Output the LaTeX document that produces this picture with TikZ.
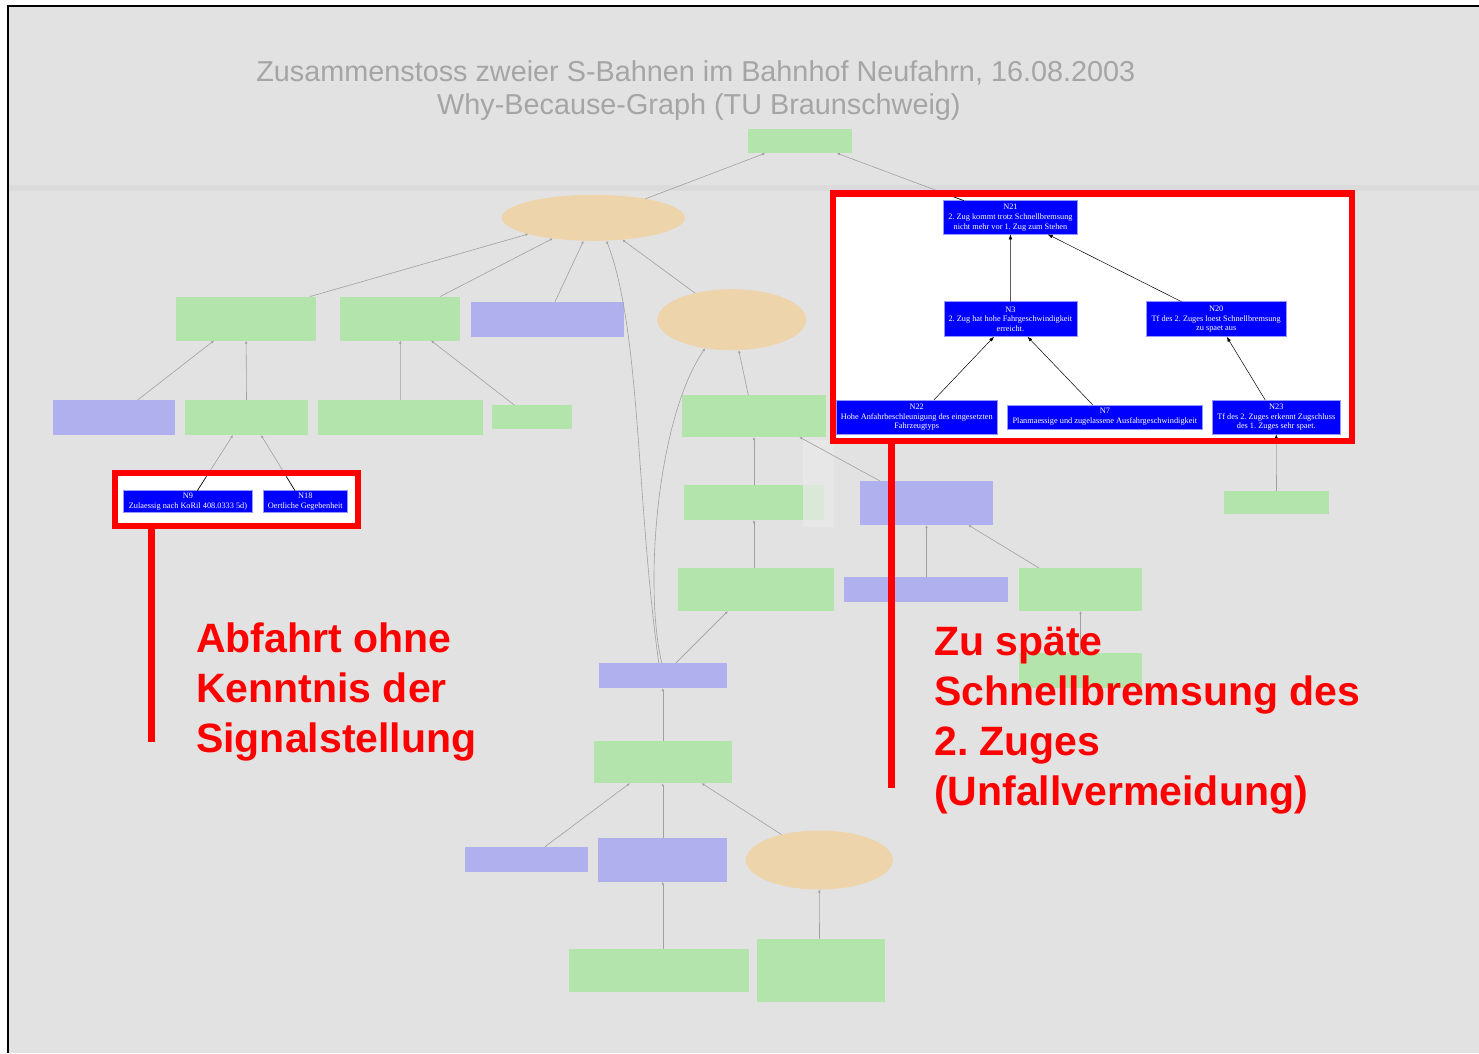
\documentclass[tikz,border=0pt]{standalone}
\usepackage{fontspec}
\setmainfont{Liberation Serif}
\newfontfamily\sansf{Liberation Sans}
\usetikzlibrary{shapes.geometric,arrows.meta,calc}
\frenchspacing
\definecolor{bg}{RGB}{226,226,226}
\definecolor{bgband}{RGB}{219,219,219}
\definecolor{bglight}{RGB}{234,234,234}
\definecolor{fgreen}{RGB}{178,228,172}
\definecolor{fblue}{RGB}{176,176,238}
\definecolor{forange}{RGB}{238,212,170}
\definecolor{fedge}{RGB}{160,160,160}
\definecolor{titlegray}{RGB}{165,165,165}
\definecolor{nblue}{RGB}{0,0,255}
\definecolor{nborder}{RGB}{150,150,255}
\definecolor{hired}{RGB}{255,0,0}
\tikzset{
  fbox/.style={rectangle, draw=none, inner sep=0pt, outer sep=0pt},
  fg/.style={fbox, fill=fgreen},
  fb/.style={fbox, fill=fblue},
  fo/.style={ellipse, fill=forange, draw=none, inner sep=0pt, outer sep=0pt},
  fe/.style={draw=fedge, line width=0.6pt, -{Latex[length=3pt,width=2.6pt]}},
  fblack/.style={draw=black, line width=0.6pt, -{Latex[length=4pt,width=3.2pt]}},
  hi/.style={rectangle, fill=nblue, draw=nborder, line width=0.5pt, text=white,
    font=\fontsize{8.3}{9.7}\selectfont, align=center, inner sep=0pt, outer sep=0pt},
  he/.style={draw=black, line width=0.5pt, -{Latex[length=5pt,width=3.6pt]}},
  redframe/.style={draw=hired, line width=6.5pt},
  redtext/.style={text=hired, font=\sansf\bfseries\fontsize{41}{50}\selectfont, inner sep=0pt, anchor=base west},
  titletext/.style={text=titlegray, font=\sansf\fontsize{28.8}{33}\selectfont, inner sep=0pt, anchor=base}
}
\begin{document}
\begin{tikzpicture}[x=1pt,y=-1pt]
\useasboundingbox (0,0) rectangle (1479,1053);
% background
\fill[white] (0,0) rectangle (1479,1053);
\fill[bg] (8,6) rectangle (1479,1053);
\fill[bgband] (8,185) rectangle (1479,191);
\draw[line width=1.5pt, black] (8,1053) -- (8,6) -- (1479,6);

% title
\node[titletext] (title1) at (695.8,81.5) {Zusammenstoss zweier S-Bahnen im Bahnhof Neufahrn, 16.08.2003};
\node[titletext] (title2) at (698.9,114) {Why-Because-Graph (TU Braunschweig)};

% faded nodes
\node[fg, minimum width=104pt, minimum height=24pt] (t1) at (800.3,141.2) {};
\node[fo, minimum width=183pt, minimum height=46pt] (e1) at (593.3,217.8) {};
\node[fg, minimum width=140pt, minimum height=44pt] (A) at (246.1,318.5) {};
\node[fg, minimum width=120pt, minimum height=44pt] (B) at (400.3,318.5) {};
\node[fb, minimum width=153pt, minimum height=35pt] (C) at (547,319.2) {};
\node[fo, minimum width=149pt, minimum height=61pt] (e2) at (731.7,319.7) {};
\node[fb, minimum width=122pt, minimum height=35pt] (E) at (113.6,417.5) {};
\node[fg, minimum width=123pt, minimum height=35pt] (F) at (246.3,417.5) {};
\node[fg, minimum width=165pt, minimum height=35pt] (G) at (400.9,417.5) {};
\node[fg, minimum width=80pt, minimum height=24pt] (H) at (532.2,417.2) {};
\node[fg, minimum width=144pt, minimum height=42pt] (D) at (754,416) {};
\node[fg, minimum width=140pt, minimum height=35pt] (I) at (754,502.5) {};
\node[fb, minimum width=133pt, minimum height=44pt] (J) at (926.5,503) {};
\node[fg, minimum width=156pt, minimum height=43pt] (K) at (755.5,589.5) {};
\node[fb, minimum width=164pt, minimum height=25pt] (L) at (926,589.5) {};
\node[fg, minimum width=123pt, minimum height=43pt] (M) at (1080.5,589.5) {};
\node[fg, minimum width=123pt, minimum height=35pt] (N) at (1080.5,670.5) {};
\node[fb, minimum width=128pt, minimum height=25pt] (O) at (662.8,675.5) {};
\node[fg, minimum width=138pt, minimum height=42pt] (P) at (662.8,762.2) {};
\node[fb, minimum width=123pt, minimum height=25pt] (Q) at (526.7,859.2) {};
\node[fb, minimum width=129pt, minimum height=44pt] (R) at (662.8,859.7) {};
\node[fo, minimum width=147pt, minimum height=59pt] (S) at (819.3,860) {};
\node[fg, minimum width=180pt, minimum height=43pt] (T) at (659,970) {};
\node[fg, minimum width=128pt, minimum height=63pt] (U) at (821,970) {};
\node[fg, minimum width=105pt, minimum height=23pt] (V) at (1276.5,502.7) {};
% lighter patch
\fill[bglight, opacity=0.7] (803,440) rectangle (834,527);

% faded edges
\draw[fe] (e1.20) -- ([xshift=-35pt]t1.south);
\draw[fe] ([xshift=64pt]A.north) -- (e1.194);
\draw[fe] ([xshift=40pt]B.north) -- (e1.207);
\draw[fe] ([xshift=8pt]C.north) -- (e1.247);
\draw[fe] ([xshift=-4pt]O.north) .. controls (636,500) and (641,330) .. (e1.300);
\draw[fe] (e2.144) -- (e1.323);
\draw[fe] ([xshift=-5.7pt]D.north) -- (e2.283);
\draw[fe] ([xshift=-1pt]O.north) .. controls (644,590) and (656,420) .. (e2.227);
\draw[fe] ([xshift=24pt]E.north) -- ([xshift=-32pt]A.south);
\draw[fe] ([xshift=0.2pt]F.north) -- (A.south);
\draw[fe] ([xshift=-0.6pt]G.north) -- (B.south);
\draw[fe] ([xshift=-17.7pt]H.north) -- ([xshift=30.7pt]B.south);
\draw[fe] (I.north) -- (D.south);
\draw[fe] ([xshift=-46.5pt]J.north) -- ([xshift=45.3pt]D.south);
\draw[fe] ([xshift=-1.5pt]K.north) -- (I.south);
\draw[fe] ([xshift=0.5pt]L.north) -- (J.south);
\draw[fe] ([xshift=-41.5pt]M.north) -- ([xshift=41.8pt]J.south);
\draw[fe] (N.north) -- (M.south);
\draw[fe] ([xshift=13pt]O.north) -- ([xshift=-27.6pt]K.south);
\draw[fe] (P.north) -- (O.south);
\draw[fe] ([xshift=18.3pt]Q.north) -- ([xshift=-32.9pt]P.south);
\draw[fe] (R.north) -- (P.south);
\draw[fe] (S.146) -- ([xshift=38.8pt]P.south);
\draw[fe] ([xshift=3.8pt]T.north) -- (R.south);
\draw[fe] ([xshift=-1.5pt]U.north) -- (S.south);

% white frame interiors
\fill[white] (833,193.3) rectangle (1352,441);
\fill[white] (115,473) rectangle (358,526);

% highlighted nodes
\node[hi, minimum width=134.5pt, minimum height=33.6pt] (n21) at (1010.45,217.5) {N21\\2. Zug kommt trotz Schnellbremsung\\nicht mehr vor 1. Zug zum Stehen};
\node[hi, minimum width=133.2pt, minimum height=35pt] (n3) at (1010.4,319.2) {N3\\2. Zug hat hohe Fahrgeschwindigkeit\\erreicht.};
\node[hi, minimum width=139.6pt, minimum height=35pt] (n20) at (1216.2,319.2) {N20\\Tf des 2. Zuges loest Schnellbremsung\\zu spaet aus};
\node[hi, minimum width=161.4pt, minimum height=34.3pt] (n22) at (916.7,417.2) {N22\\Hohe Anfahrbeschleunigung des eingesetzten\\Fahrzeugtyps};
\node[hi, minimum width=194.9pt, minimum height=24pt] (n7) at (1104.85,417) {N7\\Planmaessige und zugelassene Ausfahrgeschwindigkeit};
\node[hi, minimum width=127.9pt, minimum height=34.3pt] (n23) at (1276.25,417.2) {N23\\Tf des 2. Zuges erkennt Zugschluss\\des 1. Zuges sehr spaet.};
\node[hi, minimum width=129.4pt, minimum height=22pt] (n9) at (188,501.7) {N9\\Zulaessig nach KoRil 408.0333 5d)};
\node[hi, minimum width=84pt, minimum height=22pt] (n18) at (305.3,501.7) {N18\\Oertliche Gegebenheit};

% edges crossing into the frames
\draw[fe] ([xshift=-46.5pt]n21.north) -- ([xshift=36.5pt]t1.south);
\draw[fe] ([xshift=9.3pt]n9.north) -- ([xshift=-13.3pt]F.south);
\draw[fe] ([xshift=-10.3pt]n18.north) -- ([xshift=14.7pt]F.south);
\draw[fe, -] (V.north) -- (n23.south);
\begin{scope}
  \clip (836.25,196.55) rectangle (1348.75,437.75) (118.25,476.25) rectangle (354.75,522.75);
  \draw[fblack, -] ([xshift=-46.5pt]n21.north) -- ([xshift=36.5pt]t1.south);
  \draw[fblack, -] ([xshift=9.3pt]n9.north) -- ([xshift=-13.3pt]F.south);
  \draw[fblack, -] ([xshift=-10.3pt]n18.north) -- ([xshift=14.7pt]F.south);
  \draw[fblack] (V.north) -- (n23.south);
\end{scope}

% highlighted edges
\draw[he] (n3.north) -- (n21.south);
\draw[he] ([xshift=-34.7pt]n20.north) -- ([xshift=37.2pt]n21.south);
\draw[he] ([xshift=17.1pt]n22.north) -- ([xshift=-16.4pt]n3.south);
\draw[he] ([xshift=-12pt]n7.north) -- ([xshift=17.1pt]n3.south);
\draw[he] ([xshift=-11pt]n23.north) -- ([xshift=10.5pt]n20.south);

% red frames and lines
\draw[redframe] (833,193.3) rectangle (1352,441);
\draw[redframe] (115,473) rectangle (358,526);
\draw[draw=hired, line width=6.7pt] (151.7,529) -- (151.7,742);
\draw[draw=hired, line width=7pt] (891.3,444) -- (891.3,788);

% red texts
\node[redtext] (l1) at (196,652) {Abfahrt ohne};
\node[redtext] (l2) at (196,702) {Kenntnis der};
\node[redtext] (l3) at (196,752) {Signalstellung};
\node[redtext] (r1) at (934,655) {Zu späte};
\node[redtext] (r2) at (934,705) {Schnellbremsung des};
\node[redtext] (r3) at (934,755) {2. Zuges};
\node[redtext] (r4) at (934,805) {(Unfallvermeidung)};
\end{tikzpicture}
\end{document}
